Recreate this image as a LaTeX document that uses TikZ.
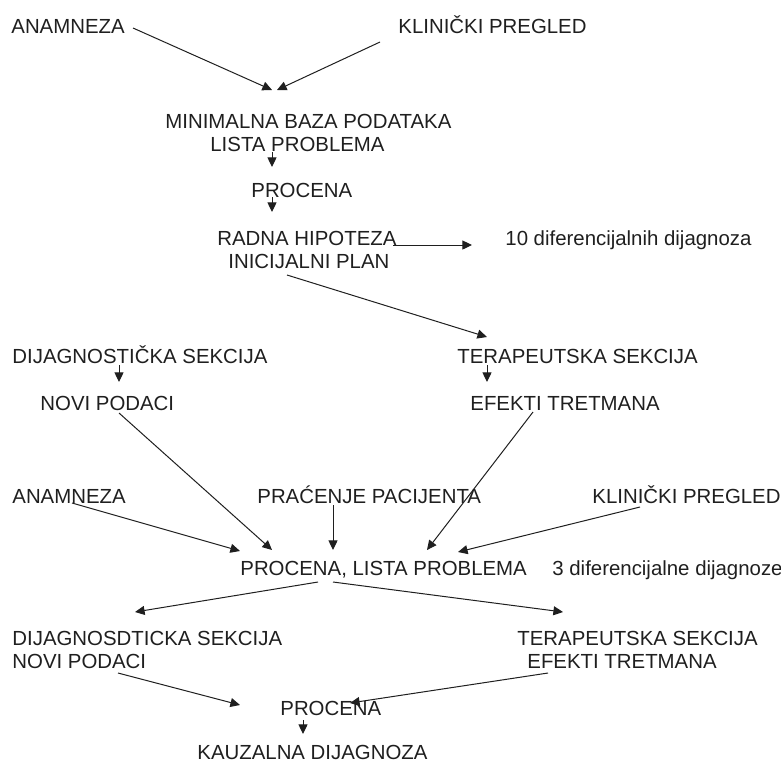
\documentclass[tikz,border=0pt]{standalone}
\usepackage{fontspec}
\setmainfont{Liberation Sans}
\usetikzlibrary{arrows.meta,calc}

\begin{document}
\begin{tikzpicture}[x=0.5pt, y=-0.5pt, every node/.style={inner sep=0pt, anchor=base west}]
  \colorlet{ink}{black!88}
  \tikzstyle{lbl}=[text=ink, font=\fontsize{10.2pt}{12pt}\selectfont]
  \tikzstyle{edge}=[-{Triangle[length=4.8pt, width=4.5pt]}, line width=0.5pt, draw=ink]
  \useasboundingbox (0,0) rectangle (781,762);
  % first round
  \node[lbl] (anam1) at (11,33) {ANAMNEZA};
  \node[lbl] (klin1) at (398,33) {KLINIČKI PREGLED};
  \node[lbl] (baza) at (165,128) {MINIMALNA BAZA PODATAKA};
  \node[lbl] (lista) at (210,151) {LISTA PROBLEMA};
  \node[lbl] (proc1) at (251,197) {PROCENA};
  \node[lbl] (radna) at (217,245) {RADNA HIPOTEZA};
  \node[lbl] (plan) at (228,268) {INICIJALNI PLAN};
  \node[lbl] (dif10) at (505,245) {10 diferencijalnih dijagnoza};
  % sekcije
  \node[lbl] (dijag1) at (12,363) {DIJAGNOSTIČKA SEKCIJA};
  \node[lbl] (novi1) at (40,410) {NOVI PODACI};
  \node[lbl] (terap1) at (457,363) {TERAPEUTSKA SEKCIJA};
  \node[lbl] (efekt1) at (470,410) {EFEKTI TRETMANA};
  % second round
  \node[lbl] (anam2) at (12,503) {ANAMNEZA};
  \node[lbl] (pracenje) at (257,503) {PRAĆENJE PACIJENTA};
  \node[lbl] (klin2) at (592,503) {KLINIČKI PREGLED};
  \node[lbl] (proc2) at (240,575) {PROCENA, LISTA PROBLEMA};
  \node[lbl] (dif3) at (552,575) {3 diferencijalne dijagnoze};
  \node[lbl] (dijag2) at (12,645) {DIJAGNOSDTICKA SEKCIJA};
  \node[lbl] (novi2) at (12,668) {NOVI PODACI};
  \node[lbl] (terap2) at (517,645) {TERAPEUTSKA SEKCIJA};
  \node[lbl] (efekt2) at (527,668) {EFEKTI TRETMANA};
  \node[lbl] (proc3) at (280,715) {PROCENA};
  \node[lbl] (kauz) at (197,759) {KAUZALNA DIJAGNOZA};

  \draw[edge] ($(anam1.base west)+(122,-5)$) -- ($(baza.base west)+(107,-38)$);
  \draw[edge] ($(klin1.base west)+(-18,9)$) -- ($(baza.base west)+(112,-38)$);
  \draw[edge] ($(lista.base west)+(62,1)$) -- ($(proc1.base west)+(21,-30)$);
  \draw[edge] ($(proc1.base west)+(21,0)$) -- ($(radna.base west)+(55,-33)$);
  \draw[edge] ($(radna.base west)+(176,0)$) -- ($(dif10.base west)+(-33,0)$);
  \draw[edge] ($(plan.base west)+(59,7)$) -- ($(terap1.base west)+(30,-26)$);
  \draw[edge] ($(dijag1.base west)+(107,2)$) -- ($(novi1.base west)+(79,-28)$);
  \draw[edge] ($(terap1.base west)+(30,2)$) -- ($(efekt1.base west)+(17,-28)$);
  %procena, lista problema
  \draw[edge] ($(novi1.base west)+(79,3)$) -- ($(proc2.base west)+(32,-25)$);
  \draw[edge] ($(efekt1.base west)+(63,2)$) -- ($(proc2.base west)+(187,-25)$);
  \draw[edge] ($(anam2.base west)+(60,0)$) -- ($(proc2.base west)+(0,-24)$);
  \draw[edge] ($(pracenje.base west)+(76,2)$) -- ($(proc2.base west)+(93,-25)$);
  \draw[edge] ($(klin2.base west)+(48,4)$) -- ($(proc2.base west)+(218,-23)$);
  \draw[edge] ($(proc2.base west)+(78,7)$) -- ($(dijag2.base west)+(123,-33)$);
  \draw[edge] ($(proc2.base west)+(93,7)$) -- ($(terap2.base west)+(46,-33)$);
  \draw[edge] ($(novi2.base west)+(106,5)$) -- ($(proc3.base west)+(-40,-10)$);
  \draw[edge] ($(efekt2.base west)+(21,5)$) -- ($(proc3.base west)+(70,-12)$);
  \draw[edge] ($(proc3.base west)+(23,5)$) -- ($(kauz.base west)+(106,-25)$);
\end{tikzpicture}
\end{document}
